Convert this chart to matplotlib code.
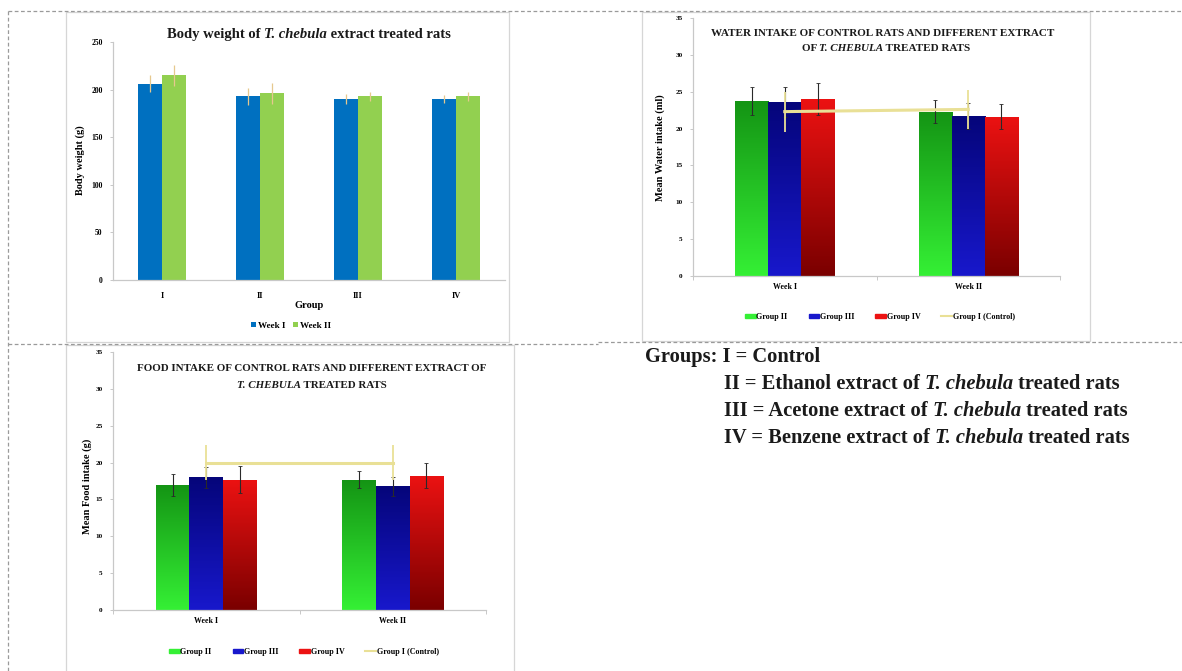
import numpy as np
import matplotlib
matplotlib.use("Agg")
import matplotlib.pyplot as plt
from matplotlib.colors import LinearSegmentedColormap
from matplotlib.patches import Rectangle, Patch
from matplotlib.lines import Line2D

# ---------------- data ----------------
bw_groups = ["I", "II", "III", "IV"]
bw_week1 = [206, 193, 190, 190]
bw_week1_err = [9, 9, 5, 4]
bw_week2 = [215, 196, 193, 193]
bw_week2_err = [11, 11, 5, 5]

weeks = ["Week I", "Week II"]

water_g2 = [23.8, 22.3]
water_g2_err = [1.9, 1.6]
water_g3 = [23.6, 21.7]
water_g3_err = [2.0, 1.8]
water_g4 = [24.0, 21.6]
water_g4_err = [2.2, 1.7]
water_ctrl = [22.3, 22.6]
water_ctrl_err = [2.7, 2.6]

food_g2 = [17.0, 17.7]
food_g2_err = [1.5, 1.2]
food_g3 = [18.0, 16.8]
food_g3_err = [1.4, 1.3]
food_g4 = [17.7, 18.2]
food_g4_err = [1.8, 1.7]
food_ctrl = [20.0, 20.0]
food_ctrl_err = [2.4, 2.4]

series_labels = ["Group II", "Group III", "Group IV", "Group I (Control)"]

# ---------------- style ----------------
plt.rcParams["font.family"] = ["Liberation Serif", "DejaVu Serif"]
plt.rcParams["font.weight"] = "bold"
GRID = "#c8c8c8"
DASH = "#9a9a9a"
CTRL = "#e9e096"
GREEN = ("#35f035", "#149414")   # bottom, top
BLUE = ("#1818cc", "#05057a")
RED = ("#7a0000", "#ec1212")

W, H = 1182, 671
fig = plt.figure(figsize=(W / 100, H / 100), dpi=100)
fig.patch.set_facecolor("white")

bg = fig.add_axes([0, 0, 1, 1], zorder=0)
bg.set_xlim(0, W)
bg.set_ylim(H, 0)
bg.axis("off")
renderer = fig.canvas.get_renderer()


def px_axes(x0, y0, x1, y1):
    ax = fig.add_axes([x0 / W, 1 - y1 / H, (x1 - x0) / W, (y1 - y0) / H], zorder=2)
    ax.set_facecolor("none")
    return ax


def run_width(s, size, style):
    kw = dict(fontsize=size, fontstyle=style, fontweight="bold")
    t = bg.text(0, 0, s + "|", **kw)
    w1 = t.get_window_extent(renderer).width
    t.remove()
    t = bg.text(0, 0, "|", **kw)
    w0 = t.get_window_extent(renderer).width
    t.remove()
    return w1 - w0


def fit_size(runs, target):
    w = sum(run_width(s, 10, st) for s, st in runs)
    return 10 * target / w


def text_runs(x, y, runs, size, ha="left", color="#1a1a1a"):
    widths = [run_width(s, size, st) for s, st in runs]
    if ha == "center":
        x -= sum(widths) / 2
    for (s, st), w in zip(runs, widths):
        bg.text(x, y, s, fontsize=size, fontstyle=st, fontweight="bold",
                ha="left", va="baseline", color=color)
        x += w


def gradient_bars(ax, bars, colors):
    cmap = LinearSegmentedColormap.from_list("grad", list(colors))
    grad = np.linspace(0, 1, 256).reshape(-1, 1)
    for b in bars:
        x0, y0, w, h = b.get_x(), b.get_y(), b.get_width(), b.get_height()
        im = ax.imshow(grad, cmap=cmap, extent=(x0, x0 + w, y0, y0 + h),
                       origin="lower", aspect="auto", zorder=b.get_zorder() + 0.1)
        im.set_clip_path(b)


def style_axes(ax, ylim, step, nx, size):
    ax.set_xlim(-0.5, nx - 0.5)
    ax.set_ylim(*ylim)
    ax.set_yticks(np.arange(ylim[0], ylim[1] + 0.1, step))
    for s in ("top", "right"):
        ax.spines[s].set_visible(False)
    for s in ("left", "bottom"):
        ax.spines[s].set_color(GRID)
        ax.spines[s].set_linewidth(0.9)
    ax.tick_params(axis="y", length=2.5, width=0.7, color=GRID, labelsize=size, pad=5)
    ax.tick_params(axis="x", length=0, labelsize=size + 0.5, pad=5)
    ax.set_xticks(np.arange(-0.5, nx, 1.0), minor=True)
    ax.tick_params(axis="x", which="minor", length=3, width=0.7, color=GRID)


# ---------------- frame lines ----------------
dash = dict(color=DASH, lw=0.9, ls=(0, (3, 2)))
bg.plot([8, W], [11, 11], **dash)
bg.plot([8, 8], [11, H], **dash)
bg.plot([8, 598], [343.5, 343.5], **dash)
bg.plot([598, W], [341.5, 341.5], **dash)
for (x0, y0, x1, y1) in [(66, 12, 509, 342), (642, 12, 1090, 341), (66, 345, 514, H + 5)]:
    bg.add_patch(Rectangle((x0, y0), x1 - x0, y1 - y0, fill=False, ec="#d6d6d6", lw=0.9))

# ---------------- body weight ----------------
ax1 = px_axes(113, 42, 505, 280)
x = np.arange(len(bw_groups))
w = 0.245
ax1.bar(x - w / 2, bw_week1, w, color="#0070c0", zorder=2, label="Week I")
ax1.bar(x + w / 2, bw_week2, w, color="#92d050", zorder=2, label="Week II")
ax1.errorbar(x - w / 2, bw_week1, yerr=bw_week1_err, fmt="none", ecolor="#e6c88e",
             elinewidth=0.9, zorder=3)
ax1.errorbar(x + w / 2, bw_week2, yerr=bw_week2_err, fmt="none", ecolor="#e6c88e",
             elinewidth=0.9, zorder=3)
style_axes(ax1, (0, 250), 50, len(bw_groups), 5.5)
ax1.set_xticks(x)
ax1.set_xticklabels(bw_groups)
ax1.tick_params(axis="x", pad=9)
ax1.tick_params(axis="x", which="minor", length=0)
ax1.legend(loc="center", bbox_to_anchor=(291, 326), bbox_transform=bg.transData,
           ncol=2, frameon=False, fontsize=6.6, handlelength=0.5, handleheight=0.5,
           handletextpad=0.2, columnspacing=0.9)

runs = [("Body weight of ", "normal"), ("T. chebula", "italic"), (" extract treated rats", "normal")]
text_runs(309, 38, runs, fit_size(runs, 285), ha="center")
bg.text(80, 160, "Body weight (g)", rotation=90, ha="center", va="center", fontsize=7.5)
bg.text(309, 306, "Group", ha="center", va="center", fontsize=7.5)


# ---------------- grouped intake charts ----------------
def intake_chart(box, g2, g2e, g3, g3e, g4, g4e, ctrl, ctrle):
    ax = px_axes(*box)
    xs = np.arange(len(weeks))
    bw = 0.18
    for off, vals, errs, cols in [(-bw, g2, g2e, GREEN), (0, g3, g3e, BLUE), (bw, g4, g4e, RED)]:
        bars = ax.bar(xs + off, vals, bw, color=cols[1], zorder=2)
        gradient_bars(ax, bars, cols)
        ax.errorbar(xs + off, vals, yerr=errs, fmt="none", ecolor="#2a2a2a",
                    elinewidth=0.8, capsize=1.2, capthick=0.6, zorder=4)
    ax.errorbar(xs, ctrl, yerr=ctrle, color=CTRL, lw=2.2, elinewidth=1.3, zorder=5)
    style_axes(ax, (0, 35), 5, len(weeks), 5.2)
    ax.set_xticks(xs)
    ax.set_xticklabels(weeks)
    handles = [Patch(color=GREEN[0]), Patch(color=BLUE[0]), Patch(color=RED[1]),
               Line2D([], [], color=CTRL, lw=1.5)]
    return ax, handles


ax2, h2 = intake_chart((693, 18, 1060, 276), water_g2, water_g2_err, water_g3, water_g3_err,
                       water_g4, water_g4_err, water_ctrl, water_ctrl_err)
ax2.legend(h2, series_labels, loc="center", bbox_to_anchor=(880, 317),
           bbox_transform=bg.transData, ncol=4, frameon=False, fontsize=5.8,
           handlelength=1.3, handleheight=0.5, handletextpad=0.1, columnspacing=2.6)
r1 = [("WATER INTAKE OF CONTROL RATS AND DIFFERENT EXTRACT", "normal")]
sz = fit_size(r1, 342)
text_runs(883, 36, r1, sz, ha="center")
text_runs(886, 51, [("OF ", "normal"), ("T. CHEBULA", "italic"), (" TREATED RATS", "normal")],
          sz, ha="center")
bg.text(660, 148, "Mean Water intake (ml)", rotation=90, ha="center", va="center", fontsize=7.5)

ax3, h3 = intake_chart((113, 352, 486, 610), food_g2, food_g2_err, food_g3, food_g3_err,
                       food_g4, food_g4_err, food_ctrl, food_ctrl_err)
ax3.legend(h3, series_labels, loc="center", bbox_to_anchor=(304, 652),
           bbox_transform=bg.transData, ncol=4, frameon=False, fontsize=5.8,
           handlelength=1.3, handleheight=0.5, handletextpad=0.1, columnspacing=2.6)
r1 = [("FOOD INTAKE OF CONTROL RATS AND DIFFERENT EXTRACT OF", "normal")]
sz = fit_size(r1, 351)
text_runs(312, 371, r1, sz, ha="center")
text_runs(312, 388, [("T. CHEBULA", "italic"), (" TREATED RATS", "normal")], sz, ha="center")
bg.text(87, 486, "Mean Food intake (g)", rotation=90, ha="center", va="center", fontsize=7.5)

# ---------------- group key ----------------
key = [
    (645, 362, [("Groups: I = Control", "normal")]),
    (724, 389, [("II = Ethanol extract of ", "normal"), ("T. chebula", "italic"), (" treated rats", "normal")]),
    (724, 416, [("III = Acetone extract of ", "normal"), ("T. chebula", "italic"), (" treated rats", "normal")]),
    (724, 443, [("IV = Benzene extract of ", "normal"), ("T. chebula", "italic"), (" treated rats", "normal")]),
]
ksz = fit_size(key[1][2], 399)
for kx, ky, kr in key:
    text_runs(kx, ky, kr, ksz)

fig.savefig("out.png", dpi=100, facecolor="white")
